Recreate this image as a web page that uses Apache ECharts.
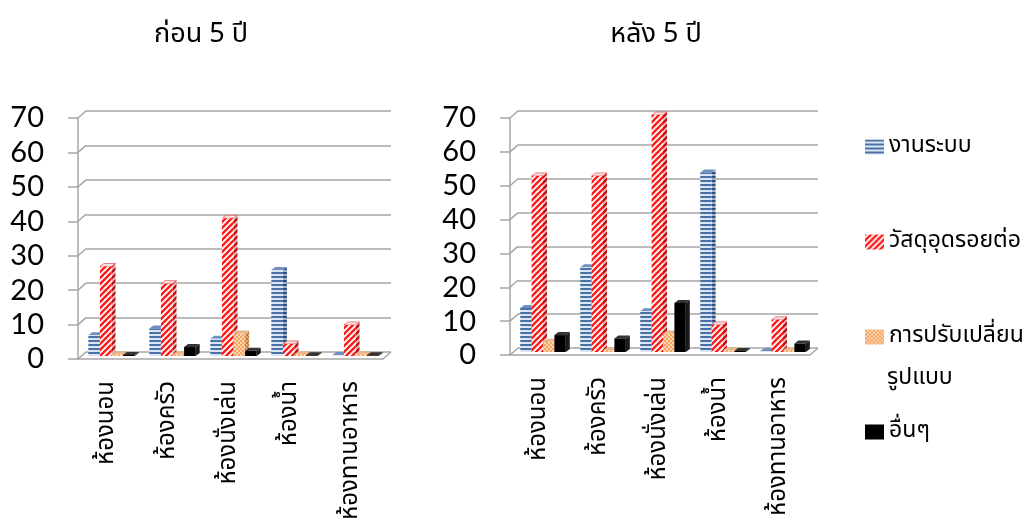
<!DOCTYPE html>
<html>
<head>
<meta charset="utf-8">
<script src="https://cdn.jsdelivr.net/npm/echarts@6/dist/echarts.min.js"></script>
<style>
html, body { margin: 0; padding: 0; background: #fff; }
#container { width: 1036px; height: 529px; }
</style>
</head>
<body>
<div id="container"></div>
<script>
// ข้อมูล
var categories = ['ห้องนอน', 'ห้องครัว', 'ห้องนั่งเล่น', 'ห้องน้ำ', 'ห้องทานอาหาร'];
var seriesNames = ['งานระบบ', 'วัสดุอุดรอยต่อ', 'การปรับเปลี่ยนรูปแบบ', 'อื่นๆ'];
var yTicks = [0, 10, 20, 30, 40, 50, 60, 70];

// ก่อน 5 ปี
var beforeSystem = [6, 8, 5, 25, 0.3];
var beforeSealant = [26, 21, 40, 3.5, 9];
var beforeRedesign = [0.5, 0.5, 6.5, 0.5, 0.5];
var beforeOther = [0.3, 2.6, 1.5, 0.2, 0.2];

// หลัง 5 ปี
var afterSystem = [13, 25, 12, 53, 0.3];
var afterSealant = [52, 52, 70, 8, 9.5];
var afterRedesign = [3, 0.5, 5.5, 0.5, 0.5];
var afterOther = [5, 4, 14.5, 0.3, 2.5];

var FONT = 'Tahoma, "Noto Sans Thai", "DejaVu Sans", sans-serif';
var GRAY = '#a6a6a6';

function makePattern(w, h, draw) {
    var c = document.createElement('canvas');
    c.width = w; c.height = h;
    draw(c.getContext('2d'), w, h);
    return { image: c, repeat: 'repeat' };
}
function stripes(bg, fg) {
    return makePattern(4, 4, function (ctx) {
        ctx.fillStyle = bg; ctx.fillRect(0, 0, 4, 4);
        ctx.fillStyle = fg; ctx.fillRect(0, 0, 4, 2);
    });
}
function diag(bg, fg) {
    return makePattern(6, 6, function (ctx) {
        ctx.fillStyle = bg; ctx.fillRect(0, 0, 6, 6);
        ctx.strokeStyle = fg; ctx.lineWidth = 2.4;
        ctx.beginPath();
        for (var k = -1; k <= 1; k++) {
            ctx.moveTo(k * 6 - 1, 7); ctx.lineTo(k * 6 + 7, -1);
        }
        ctx.stroke();
    });
}
function checker(a, b) {
    return makePattern(4, 4, function (ctx) {
        ctx.fillStyle = a; ctx.fillRect(0, 0, 4, 4);
        ctx.fillStyle = b; ctx.fillRect(0, 0, 2, 2); ctx.fillRect(2, 2, 2, 2);
    });
}

var faces = [
    { front: stripes('#dce6f2', '#4a70a8'), side: stripes('#9fb3d0', '#2f4f80'), top: '#6f8fbf' },
    { front: diag('#ffffff', '#ff1a1a'), side: diag('#e8c8c8', '#c01010'), top: '#fbe3e3' },
    { front: checker('#fcd5b0', '#f5a462'), side: checker('#d9a878', '#c07a40'), top: '#e8b88c' },
    { front: '#000000', side: '#1a1a1a', top: '#333333' }
];

var shift = [3, -3];   // ระนาบของแท่ง
var depth = [4, -3];   // ความลึกของแท่ง
var back = [8, -7];    // ผนังด้านหลัง

function barRenderer(k) {
    var f = faces[k];
    return function (params, api) {
        var idx = api.value(0), val = api.value(1);
        var p0 = api.coord([idx, 0]);
        var p1 = api.coord([idx, val]);
        var band = api.size([1, 0])[0];
        var w = band * 0.19;
        var x = p0[0] - 2 * w + k * w + shift[0];
        var yb = p0[1] + shift[1], yt = p1[1] + shift[1];
        var dx = depth[0], dy = depth[1];
        return {
            type: 'group',
            children: [
                { type: 'polygon', shape: { points: [[x + w, yb], [x + w + dx, yb + dy], [x + w + dx, yt + dy], [x + w, yt]] },
                  style: { fill: f.side } },
                { type: 'polygon', shape: { points: [[x, yt], [x + dx, yt + dy], [x + w + dx, yt + dy], [x + w, yt]] },
                  style: { fill: f.top, stroke: k === 1 ? '#e03030' : null, lineWidth: 0.6 } },
                { type: 'rect', shape: { x: x, y: yt, width: w, height: yb - yt }, style: { fill: f.front } }
            ]
        };
    };
}

// เส้นทแยงจากแกนหน้าไปผนังหลัง และพื้น
function frameRenderer(params, api) {
    var cs = params.coordSys;
    var v = api.value(0);
    var y = api.coord([0, v])[1];
    var kids = [{ type: 'line', shape: { x1: cs.x, y1: y, x2: cs.x + back[0], y2: y + back[1] },
                  style: { stroke: GRAY, lineWidth: 1.5 } }];
    if (v === 0) {
        kids.push({ type: 'line', shape: { x1: cs.x + cs.width, y1: y, x2: cs.x + cs.width + back[0], y2: y + back[1] },
                    style: { stroke: GRAY, lineWidth: 1.5 } });
    }
    return { type: 'group', children: kids };
}

var grids = [
    { left: 78, top: 118, width: 305, height: 241 },
    { left: 78 + back[0], top: 118 + back[1], width: 305, height: 241 },
    { left: 510, top: 118, width: 300, height: 237 },
    { left: 510 + back[0], top: 118 + back[1], width: 300, height: 237 }
];

function frontX(gi) {
    return {
        type: 'category', gridIndex: gi, data: categories,
        axisLine: { lineStyle: { color: GRAY, width: 1.5 } },
        axisTick: { length: 8, lineStyle: { color: GRAY, width: 1.5 } },
        axisLabel: { rotate: 90, fontSize: 24, color: '#000', fontFamily: FONT, margin: 22, interval: 0 }
    };
}
function backX(gi) {
    return { type: 'category', gridIndex: gi, data: categories, show: false };
}
function frontY(gi) {
    return {
        type: 'value', gridIndex: gi, min: 0, max: 70, interval: 10,
        axisLine: { show: true, lineStyle: { color: GRAY, width: 1.5 } },
        axisTick: { show: true, length: 10, lineStyle: { color: GRAY, width: 1.5 } },
        axisLabel: { fontSize: 29, color: '#000', fontFamily: 'Lato, "Open Sans", sans-serif', margin: 34 },
        splitLine: { show: false }
    };
}
function backY(gi) {
    return {
        type: 'value', gridIndex: gi, min: 0, max: 70, interval: 10,
        axisLine: { show: false }, axisTick: { show: false }, axisLabel: { show: false },
        splitLine: { lineStyle: { color: GRAY, width: 1.5 } }
    };
}

function pairs(arr) {
    return arr.map(function (v, i) { return [i, v]; });
}

var series = [];
[[beforeSystem, beforeSealant, beforeRedesign, beforeOther, 0],
 [afterSystem, afterSealant, afterRedesign, afterOther, 2]].forEach(function (set) {
    var gi = set[4];
    series.push({
        type: 'custom', xAxisIndex: gi, yAxisIndex: gi, silent: true,
        renderItem: frameRenderer, data: yTicks.map(function (t) { return [t]; }),
        encode: { y: 0 }
    });
    for (var k = 0; k < 4; k++) {
        series.push({
            type: 'custom', name: seriesNames[k], xAxisIndex: gi, yAxisIndex: gi,
            renderItem: barRenderer(k), data: pairs(set[k]),
            encode: { x: 0, y: 1 },
            itemStyle: { color: faces[k].front }
        });
    }
});

var dom = document.getElementById('container');
var myChart = echarts.init(dom);
myChart.setOption({
    animation: false,
    backgroundColor: '#fff',
    title: [
        { text: 'ก่อน 5 ปี', left: 196, top: 18, textAlign: 'center',
          textStyle: { fontSize: 27, fontWeight: 'normal', color: '#000', fontFamily: FONT } },
        { text: 'หลัง 5 ปี', left: 651, top: 18, textAlign: 'center',
          textStyle: { fontSize: 27, fontWeight: 'normal', color: '#000', fontFamily: FONT } }
    ],
    legend: {
        orient: 'vertical', left: 860, top: 128,
        icon: 'rect', itemWidth: 19, itemHeight: 15, itemGap: 67,
        data: seriesNames,
        formatter: function (name) {
            return name === 'การปรับเปลี่ยนรูปแบบ' ? 'การปรับเปลี่ยน' : name;
        },
        textStyle: { fontSize: 23, lineHeight: 28, color: '#000', fontFamily: FONT }
    },
    graphic: [
        { type: 'text', left: 887, top: 368,
          style: { text: 'รูปแบบ', fontSize: 23, fill: '#000', fontFamily: FONT } }
    ],
    grid: grids,
    xAxis: [frontX(0), backX(1), frontX(2), backX(3)],
    yAxis: [frontY(0), backY(1), frontY(2), backY(3)],
    series: series
});
</script>
</body>
</html>
